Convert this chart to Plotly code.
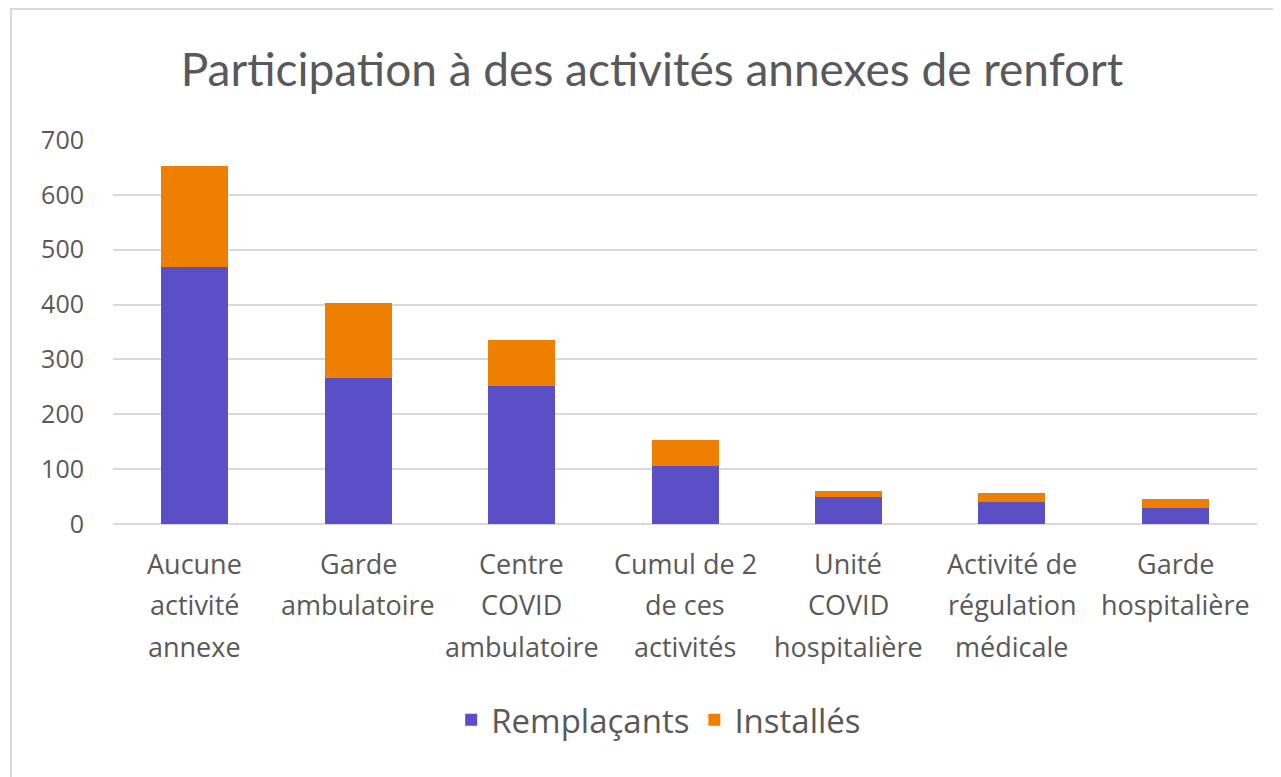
import plotly.graph_objects as go

categories = [
    "Aucune<br>activité<br>annexe",
    "Garde<br>ambulatoire",
    "Centre<br>COVID<br>ambulatoire",
    "Cumul de 2<br>de ces<br>activités",
    "Unité<br>COVID<br>hospitalière",
    "Activité de<br>régulation<br>médicale",
    "Garde<br>hospitalière",
]
remplacants = [468, 266, 251, 105, 50, 41, 30]
installes = [185, 137, 84, 48, 10, 15, 15]

BLUE = "#5A4FC4"
ORANGE = "#EF7F00"
GREY = "#595959"
GRID = "#d9d9d9"
FONT = "Open Sans, sans-serif"

# the page body adds an 8px offset, so the figure is drawn 8px smaller
W, H = 1273, 769

fig = go.Figure()
fig.add_trace(go.Bar(x=categories, y=remplacants, name="Remplaçants",
                     marker=dict(color=BLUE, line=dict(width=0))))
fig.add_trace(go.Bar(x=categories, y=installes, name="Installés",
                     marker=dict(color=ORANGE, line=dict(width=0))))

# category labels, one annotation per line to get Excel-like line spacing
annotations = []
for cat in categories:
    for i, line in enumerate(cat.split("<br>")):
        annotations.append(dict(
            x=cat, xref="x", y=0, yref="paper", yanchor="middle",
            yshift=-(39 + 41.5 * i), text=line, showarrow=False,
            font=dict(family=FONT, size=27, color=GREY),
        ))

fig.update_layout(
    barmode="stack",
    bargap=0.59,
    width=W,
    height=H,
    margin=dict(l=105, r=24, t=132, b=253),
    paper_bgcolor="white",
    plot_bgcolor="white",
    font=dict(family=FONT, color=GREY),
    title=dict(
        text="Participation à des activités annexes de renfort",
        x=644 / W, xref="container", xanchor="center",
        y=1 - 62 / H, yref="container", yanchor="middle",
        font=dict(family="Lato, sans-serif", size=46, color=GREY),
    ),
    xaxis=dict(showticklabels=False, showgrid=False, showline=False, ticks=""),
    yaxis=dict(
        range=[0, 700], dtick=100, showgrid=True, gridcolor=GRID, gridwidth=1.5,
        zeroline=True, zerolinecolor=GRID, zerolinewidth=1.5, showline=False,
        ticks="", ticklabelstandoff=28,
        tickfont=dict(family=FONT, size=25, color=GREY),
    ),
    legend=dict(
        orientation="h", x=0.477, xanchor="center", y=-0.51, yanchor="middle",
        font=dict(family=FONT, size=33, color=GREY), traceorder="normal",
        itemwidth=30,
    ),
    annotations=annotations,
    shapes=[dict(
        type="rect", xref="paper", yref="paper",
        x0=(3 - 105) / 1144, x1=1.1, y0=-1.2, y1=(516 - 1) / 384,
        line=dict(color=GRID, width=2), fillcolor="rgba(0,0,0,0)", layer="below",
    )],
)

fig.write_html("out.html")
